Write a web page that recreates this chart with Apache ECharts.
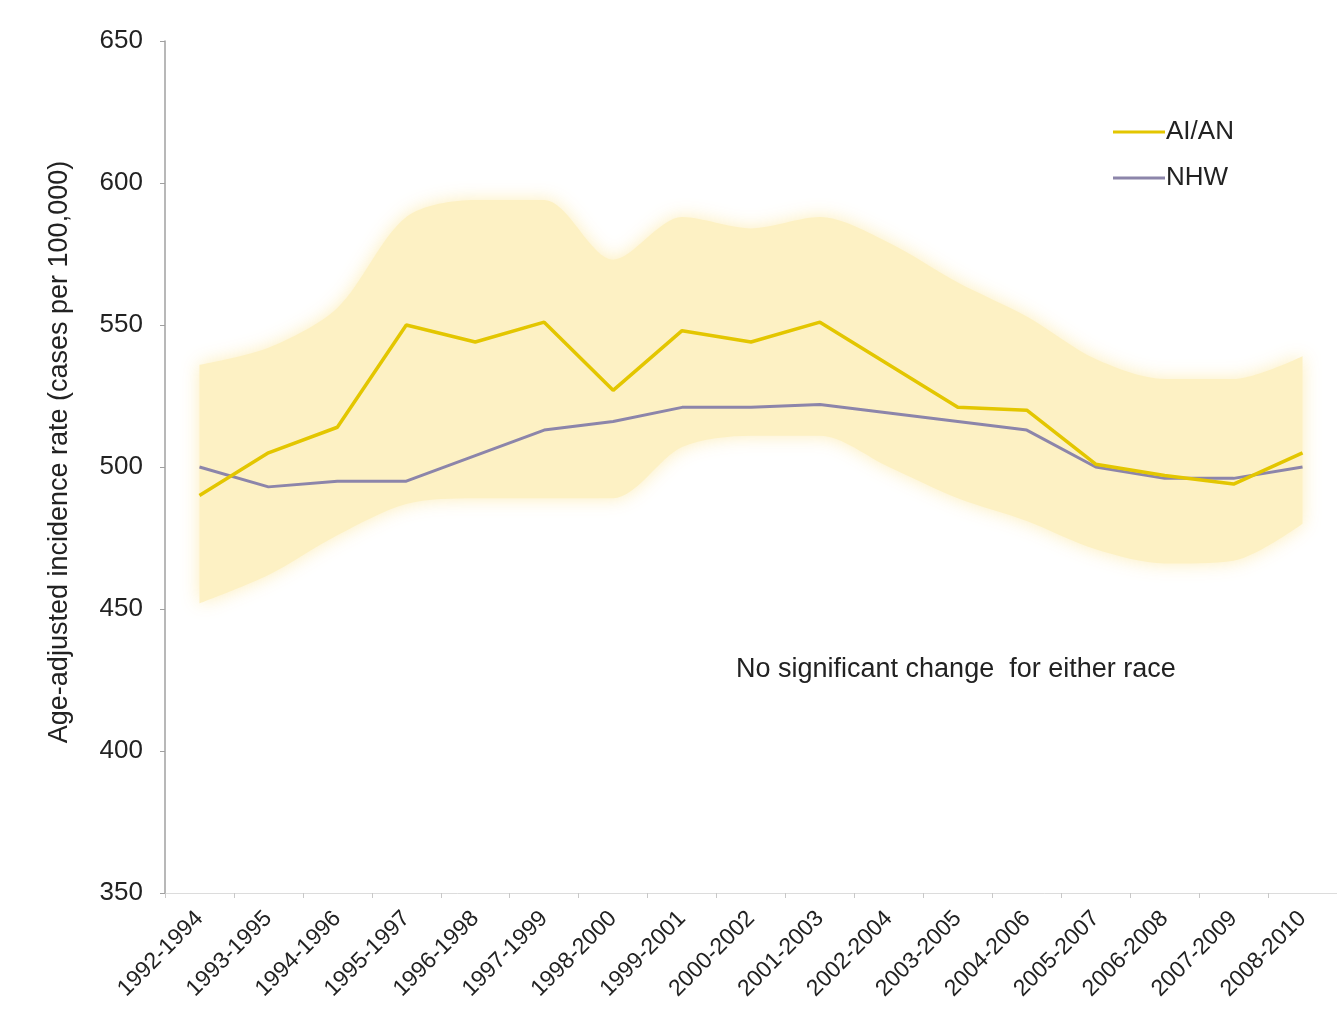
<!DOCTYPE html>
<html>
<head>
<meta charset="utf-8">
<script src="https://cdn.jsdelivr.net/npm/echarts@6/dist/echarts.min.js"></script>
<style>
  html, body { margin: 0; padding: 0; background: #fff; }
  #myChart { width: 1337px; height: 1029px; }
</style>
</head>
<body>
<div id="myChart"></div>
<script>
// 时间段
var periods = ['1992-1994', '1993-1995', '1994-1996', '1995-1997', '1996-1998', '1997-1999',
  '1998-2000', '1999-2001', '2000-2002', '2001-2003', '2002-2004', '2003-2005',
  '2004-2006', '2005-2007', '2006-2008', '2007-2009', '2008-2010']
// AI/AN rate
var aian = [490, 505, 514, 550, 544, 551, 527, 548, 544, 551, 536, 521, 520, 501, 497, 494, 505]
// NHW rate
var nhw = [500, 493, 495, 495, 504, 513, 516, 521, 521, 522, 519, 516, 513, 500, 496, 496, 500]
// AI/AN confidence band (as visible)
var bandLow = [452, 462, 476, 487, 489, 489, 489, 507, 511, 511, 500, 489, 481, 471, 466, 467, 480]
var bandHigh = [536, 542, 556, 588, 594, 594, 573, 588, 584, 588, 579, 565, 553, 538, 531, 531, 539]
var yTicks = { min: 350, max: 650, step: 50 }

var bandDiff = bandHigh.map(function (v, i) { return v - bandLow[i] })

var txt = '#222'
var font = 'Liberation Sans, Arial, sans-serif'
var myChart = echarts.init(document.getElementById('myChart'))
myChart.setOption({
  animation: false,
  backgroundColor: '#fff',
  textStyle: { fontFamily: font },
  grid: { left: 165, top: 41, width: 1177, height: 852 },
  legend: {
    orient: 'vertical',
    left: 1108,
    top: 114,
    itemGap: 20,
    itemWidth: 52,
    itemHeight: 3,
    icon: 'rect',
    textStyle: { fontSize: 26, color: txt, padding: [0, 0, 0, -4] },
    data: ['AI/AN', 'NHW'],
  },
  xAxis: {
    type: 'category',
    data: periods,
    boundaryGap: true,
    axisLine: { lineStyle: { color: '#dcdcdc', width: 1 } },
    axisTick: { show: true, length: 5, lineStyle: { color: '#c8c8c8' } },
    axisLabel: { rotate: 45, fontSize: 23, color: txt, margin: 22, interval: 0 },
  },
  yAxis: {
    type: 'value',
    min: yTicks.min,
    max: yTicks.max,
    interval: yTicks.step,
    name: 'Age-adjusted incidence rate (cases per 100,000)',
    nameLocation: 'middle',
    nameGap: 92,
    nameTextStyle: { fontSize: 27, color: txt, padding: [0, 0, 0, 30] },
    splitLine: { show: false },
    axisLine: { show: true, lineStyle: { color: '#a0a0a0', width: 1.5 } },
    axisTick: { show: true, length: 5, lineStyle: { color: '#a0a0a0' } },
    axisLabel: { fontSize: 26, color: txt, margin: 22 },
  },
  graphic: [
    {
      type: 'text',
      left: 736,
      top: 656,
      style: { text: 'No significant change  for either race', fontSize: 27, fill: txt, fontFamily: font },
    },
  ],
  series: [
    {
      name: 'bandLow',
      type: 'line',
      stack: 'ci',
      data: bandLow,
      symbol: 'none',
      smooth: 0.3,
      lineStyle: { opacity: 0 },
      silent: true,
    },
    {
      name: 'bandHigh',
      type: 'line',
      stack: 'ci',
      data: bandDiff,
      symbol: 'none',
      smooth: 0.3,
      lineStyle: { opacity: 0 },
      areaStyle: { color: '#fdf1c4', opacity: 1, shadowBlur: 18, shadowColor: 'rgba(253, 236, 180, 0.9)' },
      silent: true,
    },
    {
      name: 'AI/AN',
      type: 'line',
      data: aian,
      symbol: 'none',
      color: '#e3c600',
      lineStyle: { color: '#e3c600', width: 3.5 },
      z: 5,
    },
    {
      name: 'NHW',
      type: 'line',
      data: nhw,
      symbol: 'none',
      color: '#8c85aa',
      lineStyle: { color: '#8c85aa', width: 3 },
      z: 4,
    },
  ],
})
</script>
</body>
</html>
